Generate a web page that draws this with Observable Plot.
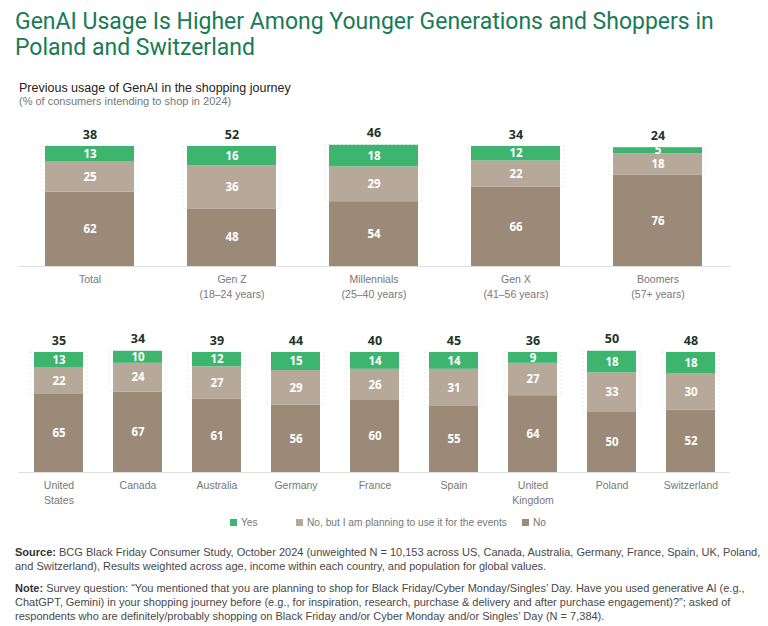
<!DOCTYPE html>
<html>
<head>
<meta charset="utf-8">
<script src="https://cdn.jsdelivr.net/npm/d3@7"></script>
<script src="https://cdn.jsdelivr.net/npm/@observablehq/plot@0.6"></script>
<style>
  html, body { margin: 0; padding: 0; background: #fff; }
  body { width: 768px; height: 626px; position: relative; overflow: hidden; font-family: "Liberation Sans", "Noto Sans", sans-serif; }
  .abs { position: absolute; }
  .tl { left: 15px; font-family: Roboto, "Noto Sans", sans-serif; font-size: 23px; line-height: 26px; color: #197a56; white-space: nowrap; }
  #sub1 { left: 19px; top: 81px; font-size: 12.5px; line-height: 14px; color: #222; white-space: nowrap; }
  #sub2 { left: 19px; top: 95px; font-size: 11px; line-height: 12px; color: #777; white-space: nowrap; }
  #legend { left: 0; top: 516px; width: 768px; height: 14px; font-size: 10.2px; color: #777; }
  .lg { position: absolute; top: 0; line-height: 14px; white-space: nowrap; }
  .sw { display: inline-block; width: 7px; height: 7px; margin-right: 4px; vertical-align: 0px; }
  .foot { left: 15px; width: 755px; font-size: 11px; line-height: 14px; color: #484848; white-space: nowrap; }
  .foot b { color: #333; }
</style>
</head>
<body>
<div class="abs tl" style="top:9px;">GenAI Usage Is Higher Among Younger Generations and Shoppers in</div>
<div class="abs tl" style="top:35px;">Poland and Switzerland</div>
<div id="sub1" class="abs">Previous usage of GenAI in the shopping journey</div>
<div id="sub2" class="abs">(% of consumers intending to shop in 2024)</div>
<div id="chart1" class="abs" style="left:0;top:112px;"></div>
<div id="chart2" class="abs" style="left:0;top:318px;"></div>
<div id="legend" class="abs"></div>
<div id="source" class="abs foot" style="top:545px;"><b>Source:</b> BCG Black Friday Consumer Study, October 2024 (unweighted N = 10,153 across US, Canada, Australia, Germany, France, Spain, UK, Poland,<br>and Switzerland), Results weighted across age, income within each country, and population for global values.</div>
<div id="note" class="abs foot" style="top:581px;"><b>Note:</b> Survey question: “You mentioned that you are planning to shop for Black Friday/Cyber Monday/Singles’ Day. Have you used generative AI (e.g.,<br>ChatGPT, Gemini) in your shopping journey before (e.g., for inspiration, research, purchase &amp; delivery and after purchase engagement)?”; asked of<br>respondents who are definitely/probably shopping on Black Friday and/or Cyber Monday and/or Singles’ Day (N = 7,384).</div>
<script>
// ---- Data ----
const seriesNames = ["Yes", "No, but I am planning to use it for the events", "No"];
const seriesColors = ["#3db56f", "#b6a99a", "#9c8a78"];

const genCategories = ["Total", "Gen Z", "Millennials", "Gen X", "Boomers"];
const genTickLabels = ["Total", "Gen Z\n(18–24 years)", "Millennials\n(25–40 years)", "Gen X\n(41–56 years)", "Boomers\n(57+ years)"];
const genYes = [13, 16, 18, 12, 5];
const genNoBut = [25, 36, 29, 22, 18];
const genNo = [62, 48, 54, 66, 76];
const genTotals = [38, 52, 46, 34, 24];

const countryCategories = ["United States", "Canada", "Australia", "Germany", "France", "Spain", "United Kingdom", "Poland", "Switzerland"];
const countryTickLabels = ["United\nStates", "Canada", "Australia", "Germany", "France", "Spain", "United\nKingdom", "Poland", "Switzerland"];
const countryYes = [13, 10, 12, 15, 14, 14, 9, 18, 18];
const countryNoBut = [22, 24, 27, 29, 26, 31, 27, 33, 30];
const countryNo = [65, 67, 61, 56, 60, 55, 64, 50, 52];
const countryTotals = [35, 34, 39, 44, 40, 45, 36, 50, 48];

function makeChart(cats, ticks, yes, nobut, no, totals, cfg) {
  const rows = [];
  const brackets = [];
  const tops = [];
  cats.forEach((c, i) => {
    const vals = [no[i], nobut[i], yes[i]];
    const names = [seriesNames[2], seriesNames[1], seriesNames[0]];
    let acc = 0;
    vals.forEach((v, k) => {
      rows.push({cat: c, series: names[k], y1: acc, y2: acc + v, mid: acc + v / 2, value: v});
      acc += v;
    });
    brackets.push({cat: c, y1: no[i], y2: acc});
    tops.push({cat: c, y: acc, total: totals[i]});
  });
  const tickMap = new Map(cats.map((c, i) => [c, ticks[i]]));
  return Plot.plot({
    width: 768,
    height: cfg.height,
    marginLeft: 18,
    marginRight: 38,
    marginTop: cfg.marginTop,
    marginBottom: cfg.height - cfg.marginTop - 120,
    style: {fontFamily: "'Noto Sans', sans-serif", background: "#fff", overflow: "visible"},
    x: {domain: cats, paddingInner: cfg.padding, paddingOuter: cfg.padding / 2, align: 0.5, label: null},
    y: {domain: [0, 100], axis: null},
    color: {domain: seriesNames, range: seriesColors},
    marks: [
      Plot.rectY(brackets, {x: "cat", y1: "y1", y2: "y2", fill: "none", stroke: "#e4e4e4", strokeWidth: 0.8, strokeDasharray: "2,2", insetLeft: -cfg.bracketInset, insetRight: -cfg.bracketInset}),
      Plot.rectY(rows, {x: "cat", y1: "y1", y2: "y2", fill: "series"}),
      Plot.ruleY([0], {stroke: "#dedede", strokeWidth: 1}),
      Plot.text(rows, {x: "cat", y: "mid", text: "value", fill: "#fff", fontWeight: "bold", fontSize: 11.5}),
      Plot.text(tops, {x: "cat", y: "y", text: "total", dy: -12, fill: "#1d3528", fontWeight: "bold", fontSize: 12.5}),
      Plot.axisX({tickSize: 0, tickPadding: 6, fontSize: 10.5, fill: "#777", lineHeight: 1.4, tickFormat: d => tickMap.get(d), fontFamily: "'Liberation Sans', sans-serif"})
    ]
  });
}

document.getElementById("chart1").appendChild(
  makeChart(genCategories, genTickLabels, genYes, genNoBut, genNo, genTotals, {height: 195, marginTop: 34, padding: 0.37, bracketInset: 4})
);
document.getElementById("chart2").appendChild(
  makeChart(countryCategories, countryTickLabels, countryYes, countryNoBut, countryNo, countryTotals, {height: 198, marginTop: 34, padding: 0.38, bracketInset: 4})
);

// Legend
const legendPos = [230, 296, 522];
const legend = document.getElementById("legend");
seriesNames.forEach((n, i) => {
  const d = document.createElement("div");
  d.className = "lg";
  d.style.left = legendPos[i] + "px";
  d.innerHTML = `<span class="sw" style="background:${seriesColors[i]}"></span>${n}`;
  legend.appendChild(d);
});
</script>
</body>
</html>
